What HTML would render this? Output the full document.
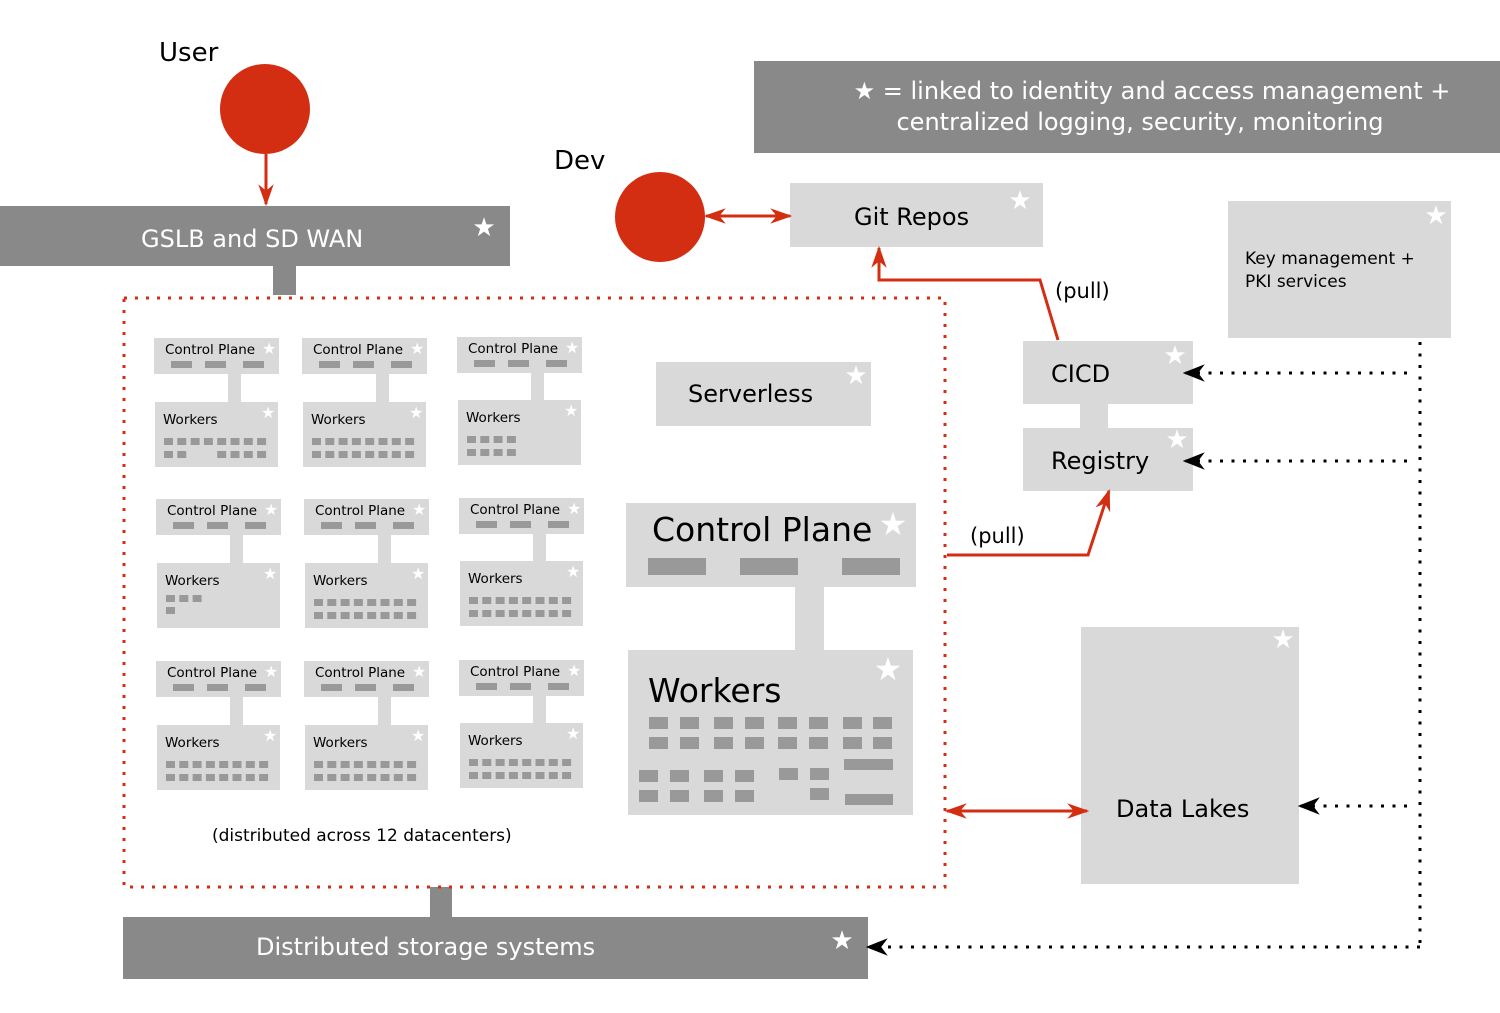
<!DOCTYPE html>
<html><head><meta charset="utf-8"><style>
html,body{margin:0;padding:0;background:#fff;}
svg{display:block;font-family:"DejaVu Sans","Liberation Sans",sans-serif;}
</style></head><body>
<svg id="s" width="1500" height="1013" viewBox="0 0 1500 1013" xmlns="http://www.w3.org/2000/svg">
<defs>
<marker id="ar" viewBox="0 0 10 10" refX="9" refY="5" markerWidth="22" markerHeight="22" orient="auto-start-reverse" markerUnits="userSpaceOnUse"><path d="M0,1.5 L10,5 L0,8.5 L3,5 z" fill="#d42e12"/></marker>
<marker id="ab" viewBox="0 0 10 10" refX="9" refY="5" markerWidth="22" markerHeight="22" orient="auto" markerUnits="userSpaceOnUse"><path d="M0,1 L10,5 L0,9 L3,5 z" fill="#000"/></marker>
</defs>
<g id="shapes"></g>
<rect x="754" y="61" width="746" height="92" fill="#898989"/>
<rect x="0" y="206" width="510" height="60" fill="#898989"/>
<rect x="273" y="266" width="23" height="29" fill="#898989"/>
<rect x="123" y="917" width="745" height="62" fill="#898989"/>
<rect x="430" y="887" width="22" height="30" fill="#898989"/>
<rect x="790" y="183" width="253" height="64" fill="#d9d9d9"/>
<rect x="1228" y="201" width="223" height="137" fill="#d9d9d9"/>
<rect x="1023" y="341" width="170" height="63" fill="#d9d9d9"/>
<rect x="1080" y="404" width="28" height="24" fill="#d9d9d9"/>
<rect x="1023" y="428" width="170" height="63" fill="#d9d9d9"/>
<rect x="656" y="362" width="215" height="64" fill="#d9d9d9"/>
<rect x="626" y="503" width="290" height="84" fill="#d9d9d9"/>
<rect x="795" y="587" width="29" height="63" fill="#d9d9d9"/>
<rect x="628" y="650" width="285" height="165" fill="#d9d9d9"/>
<rect x="1081" y="627" width="218" height="257" fill="#d9d9d9"/>
<rect x="124" y="298" width="821" height="589" fill="none" stroke="#d42e12" stroke-width="3" stroke-dasharray="3,8"/>
<circle cx="265" cy="109" r="45" fill="#d42e12"/>
<circle cx="660" cy="217" r="45" fill="#d42e12"/>
<g stroke="#d42e12" stroke-width="3" fill="none">
<line x1="266" y1="154" x2="266" y2="204" marker-end="url(#ar)"/>
<line x1="706" y1="216" x2="790" y2="216" marker-start="url(#ar)" marker-end="url(#ar)"/>
<polyline points="1058,340 1040,280 879,280 879,248" marker-end="url(#ar)"/>
<polyline points="947,555 1088,555 1109,491" marker-end="url(#ar)"/>
<line x1="947" y1="811" x2="1087" y2="811" marker-start="url(#ar)" marker-end="url(#ar)"/>
</g>
<g stroke="#000" stroke-width="3" fill="none" stroke-dasharray="3,8.5">
<line x1="1420" y1="342" x2="1420" y2="947"/>
<line x1="1407" y1="373" x2="1185" y2="373" marker-end="url(#ab)"/>
<line x1="1407" y1="461" x2="1185" y2="461" marker-end="url(#ab)"/>
<line x1="1407" y1="806" x2="1300" y2="806" marker-end="url(#ab)"/>
<line x1="1420" y1="947" x2="868" y2="947" marker-end="url(#ab)"/>
</g>
<g font-size="26" fill="#000">
<text x="159" y="61">User</text>
<text x="554" y="169">Dev</text>
</g>
<g font-size="24" fill="#fff">
<text x="1152" y="99" text-anchor="middle">★ = linked to identity and access management +</text>
<text x="1140" y="130" text-anchor="middle">centralized logging, security, monitoring</text>
<text x="141" y="247">GSLB and SD WAN</text>
<text x="256" y="955">Distributed storage systems</text>
</g>
<g font-size="24" fill="#000">
<text x="854" y="225">Git Repos</text>
<text x="1051" y="382">CICD</text>
<text x="1051" y="469">Registry</text>
<text x="688" y="402">Serverless</text>
<text x="1116" y="817">Data Lakes</text>
<text x="1055" y="298" font-size="21">(pull)</text>
<text x="970" y="543" font-size="21">(pull)</text>
</g>
<text x="652" y="541" font-size="33">Control Plane</text>
<text x="648" y="702" font-size="33">Workers</text>
<text x="1245" y="264" font-size="17">Key management +</text>
<text x="1245" y="287" font-size="17">PKI services</text>
<text x="212" y="841" font-size="17">(distributed across 12 datacenters)</text>
<g fill="#fff" text-anchor="middle">
<text x="484" y="236" font-size="26">★</text>
<text x="842" y="949" font-size="26">★</text>
<text x="1020" y="209" font-size="26">★</text>
<text x="1436" y="224" font-size="26">★</text>
<text x="1175" y="364" font-size="26">★</text>
<text x="1177" y="448" font-size="26">★</text>
<text x="856" y="384" font-size="26">★</text>
<text x="893" y="535" font-size="32">★</text>
<text x="888" y="680" font-size="32">★</text>
<text x="1283" y="648" font-size="26">★</text>
</g>
<g id="clusters" font-size="13.5"></g>
</svg>
<script>
var NS="http://www.w3.org/2000/svg";
var cl=document.getElementById('clusters');
function R(p,x,y,w,h,f){var r=document.createElementNS(NS,'rect');r.setAttribute('x',x);r.setAttribute('y',y);r.setAttribute('width',w);r.setAttribute('height',h);r.setAttribute('fill',f);p.appendChild(r);}
function T(p,x,y,s,f,fs){var t=document.createElementNS(NS,'text');t.setAttribute('x',x);t.setAttribute('y',y);t.setAttribute('fill',f);if(fs)t.setAttribute('font-size',fs);t.textContent=s;p.appendChild(t);}
var G='#999', L='#d9d9d9';
[649,680,714,745,778,809,843,873].forEach(function(x){R(cl,x,717,19,12,G);R(cl,x,737,19,12,G);});
[639,670,704,735].forEach(function(x){R(cl,x,770,19,12,G);R(cl,x,790,19,12,G);});
R(cl,779,768,19,12,G);R(cl,810,768,19,12,G);R(cl,810,788,19,12,G);
R(cl,844,759,49,11,G);R(cl,845,794,48,11,G);
[648,740,842].forEach(function(x){R(cl,x,558,58,17,G);});
var cols=[[154,302,457],[156,304,459],[156,304,459]];
var cps=[338,499,661], wks=[402,563,725];
var pats=[[[8,[0,1,4,5,6,7]],[8,8],[4,4]],[[3,1],[8,8],[8,8]],[[8,8],[8,8],[8,8]]];
for(var r=0;r<3;r++)for(var c=0;c<3;c++){
 var x=cols[r][c], cy=cps[r]-(c==2?1:0), wy=wks[r]-(c==2?2:0);
 R(cl,x,cy,125,36,L); R(cl,x+74,cy+36,13,wy-cy-36,L); R(cl,x+1,wy,123,65,L);
 [17,51,89].forEach(function(o){R(cl,x+o,cy+23,21,7,G);});
 T(cl,x+11,cy+16,'Control Plane','#000');
 T(cl,x+108,cy+16,'★','#fff','16');
 T(cl,x+9,wy+22,'Workers','#000');
 T(cl,x+107,wy+16,'★','#fff','16');
 var p=pats[r][c], ry=[wy+36,wy+49];
 if(r==1&&c==0)ry=[wy+32,wy+44];
 for(var k=0;k<2;k++){var a=p[k];var list=Array.isArray(a)?a:[...Array(a).keys()];
  list.forEach(function(i){R(cl,x+10+i*13.3,ry[k],9,7,G);});}
}
</script>
</body></html>
